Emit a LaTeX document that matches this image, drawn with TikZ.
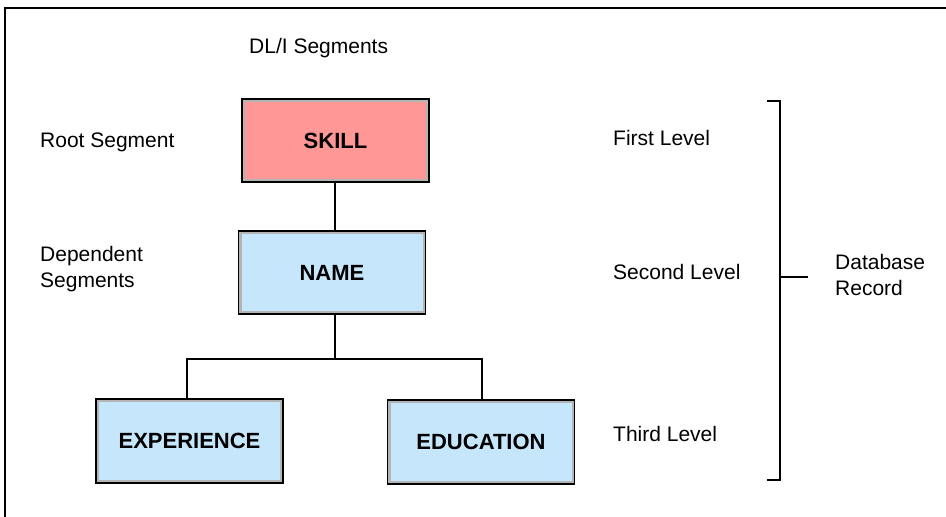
\documentclass[tikz,border=0pt]{standalone}
\usepackage{fontspec}
\setmainfont{Liberation Sans}
\definecolor{pinkfill}{HTML}{FF9797}
\definecolor{bluefill}{HTML}{C6E7FB}
\definecolor{bandgray}{HTML}{B4B4B4}
\tikzset{
  segbox/.style={draw=black, line width=1.6pt, fill=bandgray, minimum width=187pt, minimum height=83pt,
    inner sep=0pt, font=\fontsize{22}{26}\selectfont\bfseries,
    path picture={\fill[#1] ([shift={(3pt,3pt)}]path picture bounding box.south west) rectangle ([shift={(-3pt,-3pt)}]path picture bounding box.north east);}},
  lbl/.style={anchor=west, inner sep=0pt, font=\fontsize{21}{26}\selectfont, align=left},
  conn/.style={line width=2pt},
}
\begin{document}
\begin{tikzpicture}[x=1pt,y=-1pt]
\useasboundingbox (0,0) rectangle (946,517);
% frame
\coordinate (fl) at (5,517);
\coordinate (fc) at (5,8);
\coordinate (fr) at (946,8);
\draw[line width=1.5pt] (fl) -- (fc) -- (fr);
% texts
\node[lbl] (dli) at (249,48) {DL/I Segments};
\node[lbl] (root) at (40,142) {Root Segment};
\node[lbl] (dep) at (40,269) {Dependent\\Segments};
\node[lbl] (l1) at (613,138) {First Level};
\node[lbl] (l2) at (613,272) {Second Level};
\node[lbl] (l3) at (613,434) {Third Level};
\node[lbl] (dbr) at (835,275) {Database\\Record};
% boxes
\node[segbox=pinkfill] (skill) at (335.5,140.5) {SKILL};
\node[segbox=bluefill] (name) at (332,272.5) {NAME};
\node[segbox=bluefill, minimum height=84pt] (exp) at (189.5,441) {EXPERIENCE};
\node[segbox=bluefill, minimum height=84pt] (edu) at (481,442) {EDUCATION};
% connectors
\coordinate (j) at (335,359);
\coordinate (jl) at (187,359);
\coordinate (jr) at (482,359);
\draw[conn] (skill.south -| j) -- (name.north -| j);
\draw[conn] (name.south -| j) -- (j);
\draw[conn] (exp.north -| jl) -- (jl) -- (jr) -- (edu.north -| jr);
% bracket
\coordinate (bt) at (767,101);
\coordinate (bt2) at (780,101);
\coordinate (bb2) at (780,480);
\coordinate (bb) at (767,480);
\coordinate (bm) at (780,277);
\coordinate (bm2) at (808,277);
\draw[conn] (bt) -- (bt2) -- (bb2) -- (bb);
\draw[conn] (bm) -- (bm2);
\end{tikzpicture}
\end{document}
